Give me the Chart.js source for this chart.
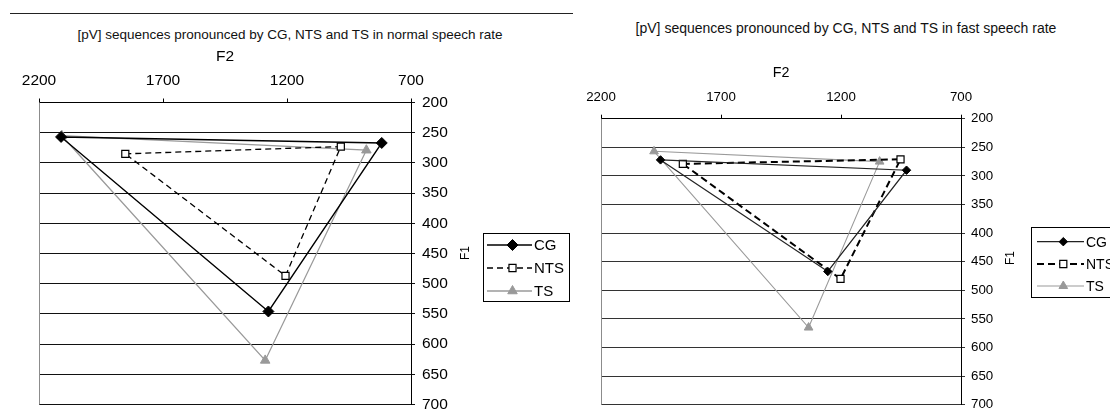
<!DOCTYPE html>
<html>
<head>
<meta charset="utf-8">
<script src="https://cdn.jsdelivr.net/npm/chart.js@4/dist/chart.umd.min.js"></script>
<style>
  body { margin: 0; background: #fff; }
  #page { position: relative; width: 1110px; height: 411px; overflow: hidden; font-family: "Liberation Sans", Arial, sans-serif; }
  .rule { position: absolute; left: 10px; top: 13px; width: 563px; border-top: 1px solid #222; }
  .title { position: absolute; text-align: center; line-height: 16px; color: #111; white-space: nowrap; }
  canvas { position: absolute; top: 0; }
</style>
</head>
<body>
<div id="page">
  <div class="rule"></div>
  <div class="title" id="titleNormal" style="left:0; width:580px; top:27px; font-size:13.5px;"></div>
  <div class="title" id="titleFast" style="left:575px; width:542px; top:20px; font-size:14px;"></div>
  <canvas id="normalChart" width="575" height="411" style="left:0"></canvas>
  <canvas id="fastChart" width="535" height="411" style="left:575px"></canvas>
</div>
<script>
const TITLE_NORMAL = '[pV] sequences pronounced by CG, NTS and TS in normal speech rate';
const TITLE_FAST = '[pV] sequences pronounced by CG, NTS and TS in fast speech rate';
const X_TITLE = 'F2';
const Y_TITLE = 'F1';
const F2_TICKS = [2200, 1700, 1200, 700];
const F1_TICKS = [200, 250, 300, 350, 400, 450, 500, 550, 600, 650, 700];
const SERIES = ['CG', 'NTS', 'TS'];

// triangle corners: [front, back, low] as (F2, F1)
const normalCG_F2 = [2111, 818, 1275];
const normalCG_F1 = [257, 267, 546];
const normalNTS_F2 = [1852, 983, 1206];
const normalNTS_F1 = [285, 273, 487];
const normalTS_F2 = [2108, 880, 1288];
const normalTS_F1 = [255, 279, 627];

const fastCG_F2 = [1952, 927, 1255];
const fastCG_F1 = [272, 290, 467];
const fastNTS_F2 = [1859, 952, 1202];
const fastNTS_F1 = [279, 271, 480];
const fastTS_F2 = [1979, 1039, 1335];
const fastTS_F1 = [257, 275, 565];

document.getElementById('titleNormal').textContent = TITLE_NORMAL;
document.getElementById('titleFast').textContent = TITLE_FAST;

const FONT = '"Liberation Sans", Arial, sans-serif';

// closed triangle: repeat the first corner, no marker on it
function triangle(f2, f1) {
    const pts = f2.map((v, i) => ({x: v, y: f1[i]}));
    pts.push(pts[0]);
    return pts;
}

function radii(r) {
    return [r, r, r, 0];
}

function makeDatasets(cg, nts, ts, s) {
    return [{
        label: SERIES[0],
        data: triangle(cg[0], cg[1]),
        showLine: true,
        borderColor: s.cgColor,
        borderWidth: s.cgWidth,
        pointStyle: 'rectRot',
        pointRadius: radii(s.cgRadius),
        pointBackgroundColor: '#000',
        pointBorderColor: '#000',
        pointBorderWidth: 1
    }, {
        label: SERIES[1],
        data: triangle(nts[0], nts[1]),
        showLine: true,
        borderColor: '#000',
        borderWidth: s.ntsWidth,
        borderDash: s.ntsDash,
        pointStyle: 'rect',
        pointRadius: radii(s.ntsRadius),
        pointBackgroundColor: '#fff',
        pointBorderColor: '#000',
        pointBorderWidth: 1.2
    }, {
        label: SERIES[2],
        data: triangle(ts[0], ts[1]),
        showLine: true,
        borderColor: '#9a9a9a',
        borderWidth: s.tsWidth,
        pointStyle: 'triangle',
        pointRadius: radii(s.tsRadius),
        pointBackgroundColor: '#999',
        pointBorderColor: '#999',
        pointBorderWidth: 1
    }];
}

const extras = {
    id: 'extras',
    afterDraw(chart, args, opts) {
        const ctx = chart.ctx;
        const area = chart.chartArea;
        ctx.save();
        ctx.strokeStyle = '#8c8c8c';
        ctx.lineWidth = 1;
        ctx.beginPath();
        ctx.moveTo(Math.round(area.left) + 0.5, area.top);
        ctx.lineTo(Math.round(area.left) + 0.5, area.bottom);
        ctx.stroke();

        // y axis title reads bottom to top
        ctx.fillStyle = '#000';
        ctx.font = opts.yTitleSize + 'px ' + FONT;
        ctx.textAlign = 'center';
        ctx.textBaseline = 'middle';
        ctx.translate(opts.yTitleX, opts.yTitleY);
        ctx.rotate(-Math.PI / 2);
        ctx.fillText(Y_TITLE, 0, 0);
        ctx.restore();

        const lg = opts.legend;
        ctx.save();
        ctx.strokeStyle = '#000';
        ctx.lineWidth = 1;
        ctx.strokeRect(lg.x + 0.5, lg.y + 0.5, lg.w, lg.h);
        ctx.font = lg.size + 'px ' + FONT;
        ctx.textAlign = 'left';
        ctx.textBaseline = 'middle';
        chart.data.datasets.forEach((ds, i) => {
            const y = lg.rows[i];
            ctx.strokeStyle = ds.borderColor;
            ctx.lineWidth = ds.borderWidth;
            ctx.setLineDash(ds.borderDash || []);
            ctx.beginPath();
            ctx.moveTo(lg.lineFrom, y);
            ctx.lineTo(lg.lineTo, y);
            ctx.stroke();
            ctx.setLineDash([]);
            ctx.fillStyle = ds.pointBackgroundColor;
            ctx.strokeStyle = ds.pointBorderColor;
            ctx.lineWidth = ds.pointBorderWidth;
            Chart.helpers.drawPoint(ctx, {
                pointStyle: ds.pointStyle,
                rotation: 0,
                radius: ds.pointRadius[0],
                borderWidth: ds.pointBorderWidth
            }, lg.marker, y);
            ctx.fillStyle = '#000';
            ctx.fillText(ds.label, lg.text, y + 1);
        });
        ctx.restore();
    }
};

function initVowelChart(id, datasets, s) {
    const ctx = document.getElementById(id);
    return new Chart(ctx, {
        type: 'scatter',
        data: {datasets: datasets},
        plugins: [extras],
        options: {
            responsive: false,
            animation: false,
            layout: {padding: s.padding},
            elements: {line: {tension: 0, fill: false}},
            plugins: {
                legend: {display: false},
                tooltip: {enabled: false},
                extras: s.extras
            },
            scales: {
                x: {
                    type: 'linear',
                    position: 'top',
                    reverse: true,
                    min: 700,
                    max: 2200,
                    afterBuildTicks: scale => { scale.ticks = F2_TICKS.map(v => ({value: v})); },
                    afterFit: scale => {
                        scale.height = s.xHeight;
                        scale.paddingLeft = 0;
                        scale.paddingRight = 0;
                    },
                    ticks: {
                        color: '#000',
                        maxRotation: 0,
                        autoSkip: false,
                        padding: s.xTickPad,
                        font: {family: FONT, size: s.tickSize},
                        callback: v => String(v)
                    },
                    grid: {drawOnChartArea: false, tickLength: 4, color: '#000'},
                    border: {color: '#000', width: 1},
                    title: {
                        display: true,
                        text: X_TITLE,
                        color: '#000',
                        font: {family: FONT, size: s.xTitleSize},
                        padding: {top: s.xTitlePad, bottom: 0}
                    }
                },
                y: {
                    type: 'linear',
                    position: 'right',
                    reverse: true,
                    min: 200,
                    max: 700,
                    afterBuildTicks: scale => { scale.ticks = F1_TICKS.map(v => ({value: v})); },
                    afterFit: scale => {
                        scale.width = 50;
                        scale.paddingTop = 0;
                        scale.paddingBottom = 0;
                    },
                    ticks: {
                        color: '#000',
                        autoSkip: false,
                        padding: s.yTickPad,
                        font: {family: FONT, size: s.tickSize},
                        callback: v => String(v)
                    },
                    grid: {color: s.gridColor, lineWidth: 1, tickLength: 4},
                    border: {color: '#000', width: 1}
                }
            }
        }
    });
}

initVowelChart('normalChart',
    makeDatasets([normalCG_F2, normalCG_F1], [normalNTS_F2, normalNTS_F1], [normalTS_F2, normalTS_F1], {
        cgColor: '#000', cgWidth: 1.4, cgRadius: 5.5,
        ntsWidth: 1.3, ntsDash: [6, 4], ntsRadius: 5,
        tsWidth: 1.3, tsRadius: 5.5
    }), {
        padding: {left: 39, right: 114, top: 40, bottom: 2.5},
        xHeight: 62.5, xTickPad: 8, xTitlePad: 7.4, xTitleSize: 15.5,
        yTickPad: 7, tickSize: 15.5, gridColor: '#111',
        extras: {
            yTitleSize: 12, yTitleX: 466, yTitleY: 253,
            legend: {x: 483, y: 233, w: 86, h: 68, rows: [245, 268, 291],
                     lineFrom: 487, lineTo: 532, marker: 512.5, text: 534, size: 15}
        }
    });

initVowelChart('fastChart',
    makeDatasets([fastCG_F2, fastCG_F1], [fastNTS_F2, fastNTS_F1], [fastTS_F2, fastTS_F1], {
        cgColor: '#222', cgWidth: 1.2, cgRadius: 4.2,
        ntsWidth: 2, ntsDash: [7, 4], ntsRadius: 5,
        tsWidth: 1.1, tsRadius: 5
    }), {
        padding: {left: 26, right: 99, top: 50, bottom: 3.5},
        xHeight: 68.7, xTickPad: 9.6, xTitlePad: 14.1, xTitleSize: 14.3,
        yTickPad: 6, tickSize: 13.3, gridColor: '#333',
        extras: {
            yTitleSize: 12, yTitleX: 435.7, yTitleY: 258,
            legend: {x: 456, y: 227, w: 100, h: 70, rows: [241.7, 264, 286],
                     lineFrom: 462, lineTo: 509, marker: 488.3, text: 511, size: 14}
        }
    });
</script>
</body>
</html>
